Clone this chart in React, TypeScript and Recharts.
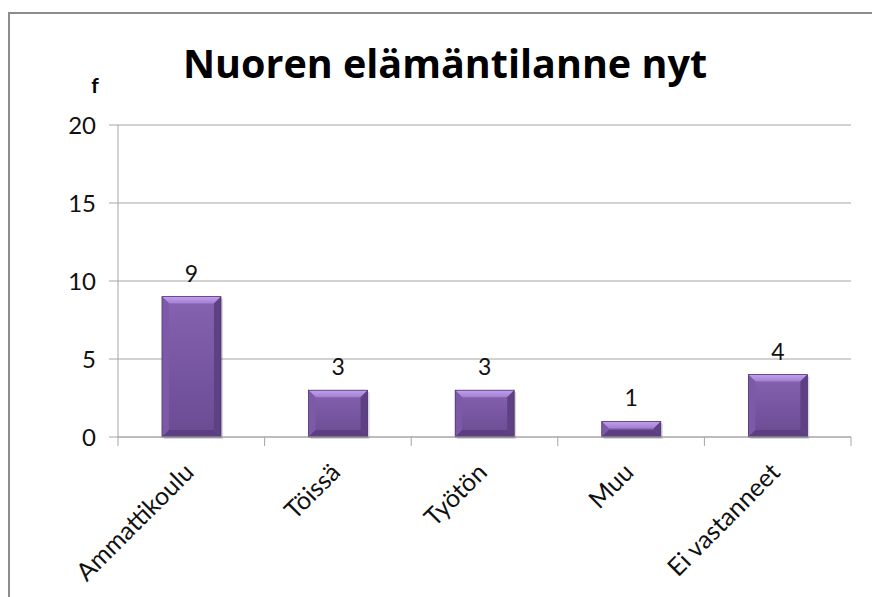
import React from 'react';
import { BarChart, Bar, XAxis, YAxis, CartesianGrid, LabelList } from 'recharts';

const categories = ['Ammattikoulu', 'Töissä', 'Työtön', 'Muu', 'Ei vastanneet'];
const counts = [9, 3, 3, 1, 4];
const yTicks = [0, 5, 10, 15, 20];

const data = categories.map((name, i) => ({ name, value: counts[i] }));

const FONT = 'Lato, "Open Sans", sans-serif';
const GRID = '#a6a6a6';

const BevelBar = (props: any) => {
  const { x, y, width, height } = props;
  if (!height || height <= 0) return null;
  const b = Math.min(7, height / 2);
  return (
    <g>
      <rect x={x + 2} y={y + 2} width={width} height={height} fill="#000" opacity={0.15} />
      <rect x={x} y={y} width={width} height={height} fill="url(#barBody)" />
      <polygon points={`${x},${y} ${x + width},${y} ${x + width - b},${y + b} ${x + b},${y + b}`} fill="url(#barTop)" />
      <polygon points={`${x},${y} ${x + b},${y + b} ${x + b},${y + height - b} ${x},${y + height}`} fill="#7d5aa8" />
      <polygon points={`${x + width},${y} ${x + width - b},${y + b} ${x + width - b},${y + height - b} ${x + width},${y + height}`} fill="#5e4185" />
      <polygon points={`${x},${y + height} ${x + b},${y + height - b} ${x + width - b},${y + height - b} ${x + width},${y + height}`} fill="#5b3f80" />
      <rect x={x} y={y} width={width} height={height} fill="none" stroke="#4f3672" strokeWidth={0.8} />
    </g>
  );
};

const AngledTick = (props: any) => {
  const { x, y, payload, index, visibleTicksCount } = props;
  const half = payload.offset || 0;
  const last = index === (visibleTicksCount ?? categories.length) - 1;
  return (
    <g>
      <line x1={x - half} x2={x - half} y1={y - 8} y2={y + 1} stroke={GRID} />
      {last && <line x1={x + half} x2={x + half} y1={y - 8} y2={y + 1} stroke={GRID} />}
      <g transform={`translate(${x + 4},${y + 29})`}>
        <text textAnchor="end" transform="rotate(-45)" fontFamily={FONT} fontSize={25} fill="#111">
          {payload.value}
        </text>
      </g>
    </g>
  );
};

export default function App() {
  return (
    <div style={{ position: 'fixed', left: 0, top: 0, width: 872, height: 597, overflow: 'hidden', background: '#fff' }}>
      <div style={{ position: 'absolute', left: 8, top: 12, width: 864, height: 585, borderTop: '2px solid #8c8c8c', borderLeft: '2px solid #8c8c8c', boxSizing: 'border-box' }} />
      <div style={{ position: 'absolute', left: 0, top: 0 }}>
        <BarChart width={872} height={597} data={data} margin={{ top: 125, right: 21, bottom: 0, left: 50 }} barCategoryGap="30%">
          <defs>
            <linearGradient id="barBody" x1="0" y1="0" x2="0" y2="1">
              <stop offset="0%" stopColor="#8662b0" />
              <stop offset="100%" stopColor="#6a4b93" />
            </linearGradient>
            <linearGradient id="barTop" x1="0" y1="0" x2="0" y2="1">
              <stop offset="0%" stopColor="#c39ff0" />
              <stop offset="100%" stopColor="#a27fd0" />
            </linearGradient>
          </defs>
          <text x={445} y={78} textAnchor="middle" fontFamily='"Open Sans", sans-serif' fontWeight={700} fontSize={39.5} fill="#000">
            Nuoren elämäntilanne nyt
          </text>
          <text x={95} y={93} textAnchor="middle" fontFamily={FONT} fontWeight={700} fontSize={21} fill="#000">
            f
          </text>
          <CartesianGrid vertical={false} stroke={GRID} strokeWidth={1} />
          <XAxis
            dataKey="name"
            height={160}
            interval={0}
            tick={<AngledTick />}
            axisLine={{ stroke: GRID }}
            tickLine={false}
          />
          <YAxis
            width={68}
            domain={[0, 20]}
            ticks={yTicks}
            interval={0}
            axisLine={{ stroke: GRID }}
            tickLine={{ stroke: GRID }}
            tickSize={9}
            tickMargin={13}
            tick={{ fontFamily: FONT, fontSize: 24, fill: '#111' }}
          />
          <Bar dataKey="value" shape={<BevelBar />} isAnimationActive={false}>
            <LabelList dataKey="value" position="top" offset={15} style={{ fontFamily: FONT, fontSize: 23, fill: '#111' }} />
          </Bar>
        </BarChart>
      </div>
    </div>
  );
}
